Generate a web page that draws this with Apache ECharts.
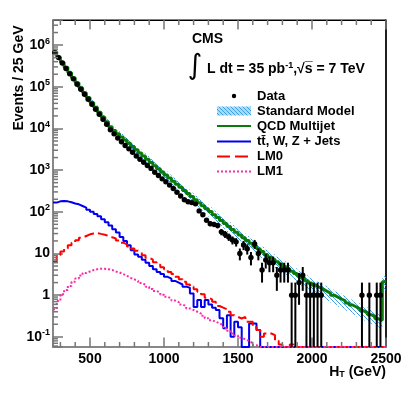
<!DOCTYPE html>
<html><head><meta charset="utf-8">
<script src="https://cdn.jsdelivr.net/npm/echarts@6/dist/echarts.min.js"></script>
<style>html,body{margin:0;padding:0;background:#fff}#c{width:407px;height:399px}</style>
</head><body><div id="c"></div>
<script>
// Histogram binning: H_T bins of 25 GeV from 250 GeV
const binStart = 250;
const binWidth = 25;

// QCD Multijet prediction per bin (events / 25 GeV)
const qcd = [
  6.89e5, 5.18e5, 3.89e5, 2.92e5, 2.20e5, 1.65e5, 1.24e5, 9.42e4, 7.19e4, 5.51e4,
  4.21e4, 3.21e4, 2.45e4, 1.87e4, 1.44e4, 1.10e4, 8910, 7460, 6270, 5250,
  4410, 3690, 3100, 2590, 2180, 1820, 1530, 1280, 1080, 906,
  764, 644, 543, 458, 386, 326, 275, 232, 195, 165,
  140, 119, 101, 85.5, 72.6, 61.7, 52.4, 44.5, 37.7, 32.2,
  27.7, 23.8, 20.4, 17.5, 15.0, 12.9, 11.1, 9.5, 8.28, 7.26,
  6.37, 5.57, 4.89, 4.29, 3.76, 3.30, 2.88, 2.53, 2.22, 1.95,
  1.72, 1.55, 1.39, 1.25, 1.12, 1.00, 0.90, 0.81, 0.73, 0.65,
  0.58, 0.52, 0.47, 0.42, 0.38, 0.34, 0.31, 0.27, 0.25, 2.1
];

// ttbar, W, Z + Jets per bin
const ewk = [
  166, 178, 182, 178, 170, 158, 151, 138, 126, 112,
  100, 89, 78, 66, 56, 47, 38, 32, 25, 20,
  15.8, 12.0, 9.5, 8.3, 7.1, 6.0, 5.0, 4.2, 3.6, 3.2,
  2.75, 2.5, 2.2, 2.0, 1.8, 1.6, 1.5, 1.1, 0.52, 0.76,
  0.52, 0.76, 0.60, 0.50, 0.44, 0.28, 0.16, 0.33, 0.10, 0.23,
  0.17, 0, 0, 0.21, 0.21, 0.145, 0, 0, 0, 0,
  0, 0, 0, 0, 0, 0, 0, 0, 0, 0,
  0, 0, 0, 0, 0, 0, 0, 0, 0, 0,
  0, 0, 0, 0, 0, 0, 0, 0, 0, 0
];

// LM0 signal per bin
const lm0 = [
  6.3, 9.1, 11.2, 13.2, 15.8, 18.2, 20.9, 24.0, 26.3, 28.8,
  30.2, 30.9, 29.5, 28.2, 26.3, 24.5, 22.9, 20.4, 18.2, 16.6,
  14.8, 13.2, 11.7, 10.5, 9.1, 7.9, 7.1, 6.2, 5.4, 4.7,
  4.2, 3.6, 3.2, 2.75, 2.4, 2.1, 1.8, 1.6, 1.38, 1.2,
  1.05, 0.87, 0.79, 0.69, 0.55, 0.50, 0.46, 0.40, 0.33, 0.30,
  0.275, 0.30, 0.23, 0.23, 0.17, 0.145, 0.10, 0.12, 0.12, 0.11,
  0.08, 0.065, 0, 0, 0.065, 0, 0, 0, 0, 0,
  0, 0, 0, 0, 0, 0, 0, 0, 0, 0,
  0, 0, 0, 0, 0, 0, 0, 0, 0, 0
];

// LM1 signal per bin
const lm1 = [
  0.46, 0.72, 1.05, 1.32, 1.66, 2.09, 2.5, 2.95, 3.4, 3.7,
  4.0, 4.2, 4.3, 4.3, 4.2, 4.0, 3.7, 3.5, 3.2, 2.9,
  2.6, 2.4, 2.2, 1.95, 1.78, 1.58, 1.41, 1.26, 1.15, 1.02,
  0.91, 0.83, 0.74, 0.68, 0.60, 0.54, 0.48, 0.44, 0.40, 0.36,
  0.32, 0.28, 0.25, 0.23, 0.21, 0.19, 0.16, 0.14, 0.12, 0.107,
  0.095, 0.087, 0.079, 0.071, 0.063, 0, 0, 0, 0, 0,
  0, 0, 0, 0, 0, 0, 0, 0, 0, 0,
  0, 0, 0, 0, 0, 0, 0, 0, 0, 0,
  0, 0, 0, 0, 0, 0, 0, 0, 0, 0
];

// Observed data counts per bin
const dataCounts = [
  661000, 501000, 372000, 275000, 204000, 155000, 115000, 87100, 66100, 50100,
  38000, 28800, 21900, 16600, 12600, 9330, 7410, 5890, 4790, 3890,
  3240, 2690, 2190, 1820, 1550, 1290, 1100, 891, 741, 617,
  525, 437, 363, 295, 240, 195, 174, 166, 155, 105,
  85, 63, 52, 50, 47, 33, 29, 25, 21, 19,
  10, 16, 13, 8, 17, 10, 4, 7, 6, 6,
  3, 4, 4, 4, 1, 1, 2, 3, 1, 1,
  1, 1, 1, 0, 0, 0, 0, 0, 0, 0,
  0, 0, 0, 1, 0, 1, 0, 1, 1, 0
];

// Relative uncertainty of the Standard Model prediction per bin
const smRelErr = [
  0.10, 0.10, 0.10, 0.11, 0.11, 0.11, 0.12, 0.12, 0.12, 0.13,
  0.13, 0.13, 0.14, 0.14, 0.15, 0.15, 0.16, 0.16, 0.17, 0.17,
  0.18, 0.18, 0.18, 0.19, 0.19, 0.19, 0.20, 0.20, 0.20, 0.21,
  0.21, 0.21, 0.22, 0.22, 0.22, 0.23, 0.23, 0.23, 0.24, 0.24,
  0.24, 0.25, 0.25, 0.25, 0.26, 0.26, 0.26, 0.27, 0.27, 0.27,
  0.28, 0.28, 0.28, 0.29, 0.29, 0.29, 0.30, 0.30, 0.30, 0.31,
  0.31, 0.31, 0.32, 0.32, 0.32, 0.33, 0.33, 0.33, 0.34, 0.34,
  0.34, 0.35, 0.35, 0.35, 0.35, 0.35, 0.35, 0.35, 0.35, 0.35,
  0.35, 0.35, 0.35, 0.35, 0.35, 0.35, 0.35, 0.35, 0.35, 0.35
];

// Axis ranges and tick values
const xMin = 250, xMax = 2500;
const yMin = 0.057, yMax = 4e6;
const xLabelTicks = [500, 1000, 1500, 2000, 2500];
const xMinorTicks = [300, 400, 600, 700, 800, 900, 1100, 1200, 1300, 1400, 1600, 1700, 1800, 1900, 2100, 2200, 2300, 2400];
const yMinorMantissas = [2, 3, 4, 5, 6, 7, 8, 9];
const yDecades = [-2, -1, 0, 1, 2, 3, 4, 5, 6];

const legendNames = ['Data', 'Standard Model', 'QCD Multijet', 'tt\u0304, W, Z + Jets', 'LM0', 'LM1'];

const FONT = '"Liberation Sans", Arial, sans-serif';

const edges = qcd.map((_, i) => binStart + i * binWidth);
function hist(vals) {
  const pts = vals.map((v, i) => [edges[i], Math.max(v, yMin)]);
  pts.push([binStart + vals.length * binWidth, Math.max(vals[vals.length - 1], yMin)]);
  return pts;
}
const sm = qcd.map((q, i) => q + ewk[i]);
const bandData = sm.map((s, i) => [edges[i], edges[i] + binWidth, s * (1 - smRelErr[i]), s * (1 + smRelErr[i])]);
const dataPts = dataCounts.map((n, i) => [edges[i] + binWidth / 2, n]).filter(d => d[1] > 0);
const yMinor = [];
yDecades.forEach(d => yMinorMantissas.forEach(m => {
  const v = m * Math.pow(10, d);
  if (v > yMin && v < yMax) yMinor.push([xMin, v]);
}));

// hatch pattern for the SM band
function makeHatch(color, bg) {
  const c = document.createElement('canvas');
  c.width = 4; c.height = 4;
  const g = c.getContext('2d');
  if (bg) { g.fillStyle = bg; g.fillRect(0, 0, 4, 4); }
  g.strokeStyle = color; g.lineWidth = 1;
  g.beginPath();
  g.moveTo(0, 0); g.lineTo(4, 4);
  g.moveTo(-1, 3); g.lineTo(1, 5);
  g.moveTo(3, -1); g.lineTo(5, 1);
  g.stroke();
  return { image: c, repeat: 'repeat' };
}
const hatch = makeHatch('#3a9be6', null);
const hatchLegend = makeHatch('#3f9fe6', '#a6dcf8');

const chart = echarts.init(document.getElementById('c'), null, { renderer: 'canvas' });

const lineBase = { type: 'line', step: 'end', symbol: 'none', clip: true, silent: true };

const legendRows = [96, 111, 126, 141.5, 156.5, 171.5];
const legX0 = 217, legX1 = 251, legTextX = 257;

const graphics = [
  { type: 'text', x: 19, y: 78, rotation: Math.PI / 2,
    style: { text: 'Events / 25 GeV', font: 'bold 14px ' + FONT, fill: '#000', align: 'center', verticalAlign: 'middle', textAlign: 'center', textVerticalAlign: 'middle' } },
  { type: 'text', x: 386, y: 372,
    style: { text: '{a|H}{s|T}{a| (GeV)}', fill: '#000', align: 'right', verticalAlign: 'middle', textAlign: 'right', textVerticalAlign: 'middle',
      rich: { a: { font: 'bold 14px ' + FONT, fill: '#000' }, s: { font: 'bold 9px ' + FONT, fill: '#000', padding: [6, 0, 0, 0] } } } },
  { type: 'text', x: 192, y: 39.5,
    style: { text: 'CMS', font: 'bold 14px ' + FONT, fill: '#000', align: 'left', verticalAlign: 'middle', textAlign: 'left', textVerticalAlign: 'middle' } },
  { type: 'text', x: 195, y: 67,
    style: { text: '\u222B', font: '28px "DejaVu Sans", sans-serif', fill: '#000', align: 'center', verticalAlign: 'middle', textAlign: 'center', textVerticalAlign: 'middle' } },
  { type: 'text', x: 207, y: 69.5,
    style: { text: '{a|L dt = 35 pb}{s|-1}{a|,\u221As\u0305 = 7 TeV}', fill: '#000', align: 'left', verticalAlign: 'middle', textAlign: 'left', textVerticalAlign: 'middle',
      rich: { a: { font: 'bold 14px ' + FONT, fill: '#000' }, s: { font: 'bold 9px ' + FONT, fill: '#000', padding: [0, 0, 8, 0] } } } },
  // legend
  { type: 'circle', shape: { cx: (legX0 + legX1) / 2, cy: legendRows[0], r: 2.2 }, style: { fill: '#000' } },
  { type: 'rect', shape: { x: legX0, y: legendRows[1] - 4.5, width: legX1 - legX0, height: 9 }, style: { fill: hatchLegend } },
  { type: 'line', shape: { x1: legX0, y1: legendRows[2], x2: legX1, y2: legendRows[2] }, style: { stroke: '#0b7a0b', lineWidth: 2 } },
  { type: 'line', shape: { x1: legX0, y1: legendRows[3], x2: legX1, y2: legendRows[3] }, style: { stroke: '#0000ee', lineWidth: 2 } },
  { type: 'line', shape: { x1: legX0, y1: legendRows[4], x2: legX1, y2: legendRows[4] }, style: { stroke: '#ff0000', lineWidth: 2, lineDash: [13, 5] } },
  { type: 'line', shape: { x1: legX0, y1: legendRows[5], x2: legX1, y2: legendRows[5] }, style: { stroke: '#ff2aa8', lineWidth: 2, lineDash: [2, 2] } }
];
legendNames.forEach((n, k) => {
  graphics.push({ type: 'text', x: legTextX, y: legendRows[k],
    style: { text: n, font: 'bold 13px ' + FONT, fill: '#000', align: 'left', verticalAlign: 'middle', textAlign: 'left', textVerticalAlign: 'middle' } });
});

const option = {
  animation: false,
  grid: { left: 53, top: 20, width: 333, height: 327, show: true, borderColor: '#000', borderWidth: 1, backgroundColor: 'transparent' },
  xAxis: [
    { type: 'value', min: xMin, max: xMax, position: 'bottom',
      axisLine: { onZero: false, lineStyle: { color: '#888', width: 2 } },
      axisTick: { inside: true, length: 9.5, lineStyle: { color: '#777', width: 1.5 } },
      axisLabel: { margin: 5, color: '#000', fontFamily: FONT, fontWeight: 'bold', fontSize: 14,
        formatter: v => (xLabelTicks.indexOf(Math.round(v)) >= 0 ? String(Math.round(v)) : '') },
      splitLine: { show: false } },
    { type: 'value', min: xMin, max: xMax, position: 'top',
      axisLine: { onZero: false, lineStyle: { color: '#000', width: 1 } },
      axisTick: { inside: true, length: 9.5, lineStyle: { color: '#777', width: 1.5 } },
      axisLabel: { show: false }, splitLine: { show: false } }
  ],
  yAxis: [
    { type: 'log', logBase: 10, min: yMin, max: yMax, position: 'left',
      axisLine: { onZero: false, lineStyle: { color: '#888', width: 2 } },
      axisTick: { inside: true, length: 10, lineStyle: { color: '#777', width: 1.5 } },
      axisLabel: { margin: 3, color: '#000', fontFamily: FONT, fontWeight: 'bold', fontSize: 14,
        formatter: v => {
          const l = Math.log10(v), e = Math.round(l);
          if (Math.abs(l - e) > 1e-6) return '';
          if (e === 0) return '1';
          if (e === 1) return '10';
          return '10{sup|' + e + '}';
        },
        rich: { sup: { fontFamily: FONT, fontWeight: 'bold', fontSize: 9, color: '#000', padding: [0, 0, 8, 0] } } },
      splitLine: { show: false }, minorTick: { show: false } },
    { type: 'log', logBase: 10, min: yMin, max: yMax, position: 'right',
      axisLine: { onZero: false, lineStyle: { color: '#000', width: 1.5 } },
      axisTick: { show: false }, axisLabel: { show: false }, splitLine: { show: false } }
  ],
  series: [
    { name: 'Standard Model', type: 'custom', z: 2, silent: true, clip: true,
      encode: { x: [0, 1], y: [2, 3] }, data: bandData,
      renderItem: (params, api) => {
        const p0 = api.coord([api.value(0), api.value(3)]);
        const p1 = api.coord([api.value(1), api.value(2)]);
        return { type: 'rect', shape: { x: p0[0], y: p0[1], width: p1[0] - p0[0], height: p1[1] - p0[1] }, style: { fill: hatch } };
      } },
    Object.assign({}, lineBase, { name: 'QCD Multijet', z: 3, data: hist(qcd), lineStyle: { color: '#0b7a0b', width: 3 } }),
    Object.assign({}, lineBase, { name: 'tt, W, Z + Jets', z: 4, data: hist(ewk), lineStyle: { color: '#0000ee', width: 2 } }),
    Object.assign({}, lineBase, { name: 'LM0', z: 5, data: hist(lm0), lineStyle: { color: '#ff0000', width: 2, type: [10, 4] } }),
    Object.assign({}, lineBase, { name: 'LM1', z: 5, data: hist(lm1), lineStyle: { color: '#ff2aa8', width: 2, type: [2, 2] } }),
    { name: 'Data', type: 'custom', z: 6, silent: true,
      encode: { x: 0, y: 1 }, data: dataPts,
      renderItem: (params, api) => {
        const xc = api.value(0), n = api.value(1);
        const cs = params.coordSys;
        const err = Math.sqrt(n);
        const p = api.coord([xc, n]);
        let yHi = api.coord([xc, n + err])[1];
        yHi = Math.max(yHi, cs.y);
        const yLo = (n - err) <= yMin ? cs.y + cs.height : api.coord([xc, n - err])[1];
        const pl = api.coord([xc - binWidth / 2, n]), pr = api.coord([xc + binWidth / 2, n]);
        return { type: 'group', children: [
          { type: 'line', shape: { x1: p[0], y1: yHi, x2: p[0], y2: yLo }, style: { stroke: '#000', lineWidth: 2 } },
          { type: 'line', shape: { x1: pl[0], y1: p[1], x2: pr[0], y2: p[1] }, style: { stroke: '#000', lineWidth: 2 } },
          { type: 'circle', shape: { cx: p[0], cy: p[1], r: 2.7 }, style: { fill: '#000' } }
        ] };
      } },
    { name: 'xMinorTicks', type: 'custom', z: 7, silent: true,
      encode: { x: 0, y: 1 }, data: xMinorTicks.map(v => [v, 1]),
      renderItem: (params, api) => {
        const cs = params.coordSys;
        const x = api.coord([api.value(0), 1])[0];
        const b = cs.y + cs.height;
        return { type: 'group', children: [
          { type: 'line', shape: { x1: x, y1: b, x2: x, y2: b - 5 }, style: { stroke: '#777', lineWidth: 1.5 } },
          { type: 'line', shape: { x1: x, y1: cs.y, x2: x, y2: cs.y + 5 }, style: { stroke: '#777', lineWidth: 1.5 } }
        ] };
      } },
    { name: 'yMinorTicks', type: 'custom', z: 7, silent: true,
      encode: { x: 0, y: 1 }, data: yMinor,
      renderItem: (params, api) => {
        const cs = params.coordSys;
        const y = api.coord([xMin, api.value(1)])[1];
        return { type: 'line', shape: { x1: cs.x, y1: y, x2: cs.x + 5, y2: y }, style: { stroke: '#777', lineWidth: 1.5 } };
      } }
  ],
  graphic: graphics
};
chart.setOption(option);
</script>
</body></html>
